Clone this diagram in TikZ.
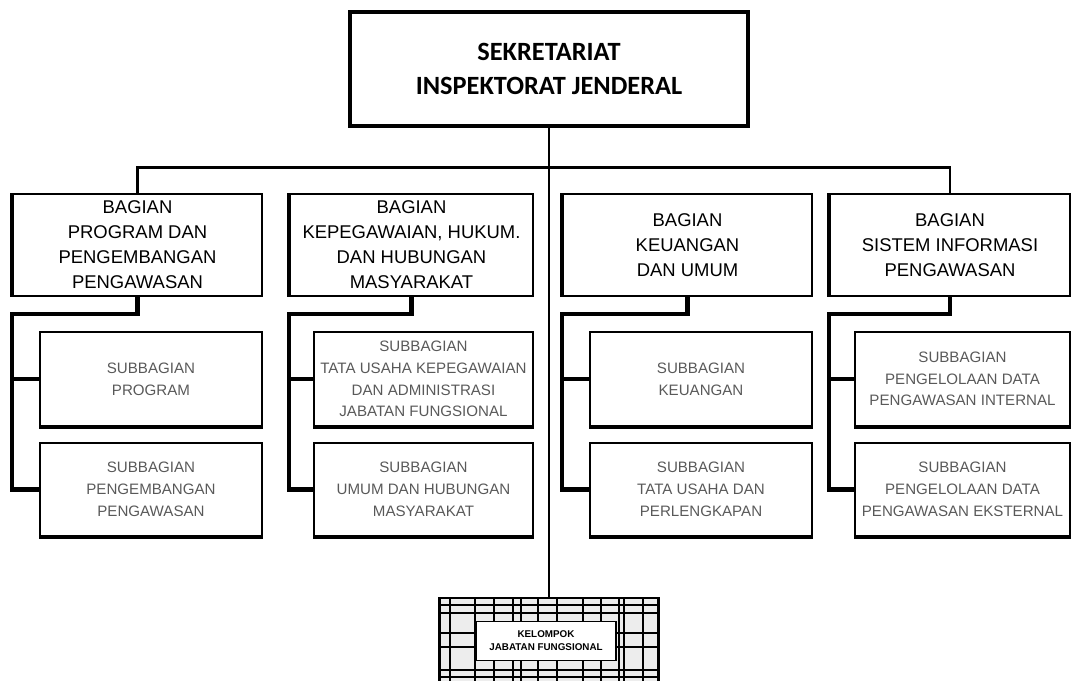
\documentclass[tikz,border=0pt]{standalone}
\usepackage{fontspec}
\setmainfont{Liberation Sans}
\newfontfamily\topfont{Carlito}
\usetikzlibrary{calc}

\begin{document}
\begin{tikzpicture}[x=0.02cm,y=-0.02cm,
  box/.style={draw,line width=1pt,align=center,inner sep=1pt},
  kepala/.style={box,line width=2pt,font=\topfont\bfseries\fontsize{15}{19}\selectfont},
  bagian/.style={box,minimum height=2.04cm,font=\fontsize{10.5}{14.2}\selectfont},
  subbag/.style={box,text=black!65,font=\fontsize{8.6}{12.4}\selectfont},
  bus/.style={line width=1.6pt},
  trunk/.style={line width=2.6pt},
  spine/.style={line width=0.8pt},
  grid/.style={line width=0.7pt}]
\clip (0,0) rectangle (1072,680);

% Sekretariat
\node[kepala,minimum width=7.96cm,minimum height=2.28cm] (top) at (549,69)
  {SEKRETARIAT\\INSPEKTORAT JENDERAL};

% Bagian
\node[bagian,minimum width=4.98cm] (B1) at (137.5,245)
  {BAGIAN\\PROGRAM DAN\\PENGEMBANGAN\\PENGAWASAN};
\node[bagian,minimum width=4.86cm] (B2) at (411.5,245)
  {BAGIAN\\KEPEGAWAIAN, HUKUM.\\DAN HUBUNGAN\\MASYARAKAT};
\node[bagian,minimum width=4.98cm] (B3) at (687.5,245)
  {BAGIAN\\KEUANGAN\\DAN UMUM};
\node[bagian,minimum width=4.8cm] (B4) at (950,245)
  {BAGIAN\\SISTEM INFORMASI\\PENGAWASAN};
\foreach \b in {B1,B2,B3,B4}
  \draw[line width=2pt] (\b.north west) -- (\b.south west);

% Subbagian
\node[subbag,minimum width=4.44cm,minimum height=1.88cm] (S11) at (151,379)
  {SUBBAGIAN\\PROGRAM};
\node[subbag,minimum width=4.44cm,minimum height=1.86cm] (S12) at (151,489.5)
  {SUBBAGIAN\\PENGEMBANGAN\\PENGAWASAN};
\node[subbag,minimum width=4.38cm,minimum height=1.88cm] (S21) at (423.5,379)
  {SUBBAGIAN\\TATA USAHA KEPEGAWAIAN\\DAN ADMINISTRASI\\JABATAN FUNGSIONAL};
\node[subbag,minimum width=4.38cm,minimum height=1.86cm] (S22) at (423.5,489.5)
  {SUBBAGIAN\\UMUM DAN HUBUNGAN\\MASYARAKAT};
\node[subbag,minimum width=4.44cm,minimum height=1.88cm] (S31) at (701,379)
  {SUBBAGIAN\\KEUANGAN};
\node[subbag,minimum width=4.44cm,minimum height=1.86cm] (S32) at (701,489.5)
  {SUBBAGIAN\\TATA USAHA DAN\\PERLENGKAPAN};
\node[subbag,minimum width=4.3cm,minimum height=1.88cm] (S41) at (962.5,379)
  {SUBBAGIAN\\PENGELOLAAN DATA\\PENGAWASAN INTERNAL};
\node[subbag,minimum width=4.3cm,minimum height=1.86cm] (S42) at (962.5,489.5)
  {SUBBAGIAN\\PENGELOLAAN DATA\\PENGAWASAN EKSTERNAL};
\foreach \s in {S11,S12,S21,S22,S31,S32,S41,S42}
  \draw[line width=2pt] (\s.south west) -- (\s.south east);

% Kelompok jabatan fungsional
\node[draw,line width=1.6pt,fill=black!7,minimum width=4.38cm,minimum height=1.84cm] (kjf) at (549,644) {};
\foreach \gx in {450,475,494,513,521,538,557,583,601,619,624,643}
  \draw[grid] (\gx,598) -- (\gx,690);
\foreach \gy in {605,613,633,647,670,677}
  \draw[grid] (440,\gy) -- (659,\gy);
\node[box,fill=white,minimum width=2.8cm,minimum height=0.78cm,
  font=\bfseries\fontsize{5.6}{7.4}\selectfont] (kjfin) at (546,641)
  {KELOMPOK\\JABATAN FUNGSIONAL};

% garis komando
\coordinate (bus) at ($(top.south)+(0,40)$);
\draw[bus] (B1.north) |- (bus) -| (B4.north);
\draw[spine] (top.south) -- (kjf.north);

\foreach \i in {1,2,3,4} {
  \coordinate (t\i) at ($(B\i.south west)+(0,17)$);
  \draw[trunk] (B\i.south) |- (t\i) |- (S\i2.west);
  \draw[trunk] (t\i |- S\i1.west) -- (S\i1.west);
}
\end{tikzpicture}
\end{document}
